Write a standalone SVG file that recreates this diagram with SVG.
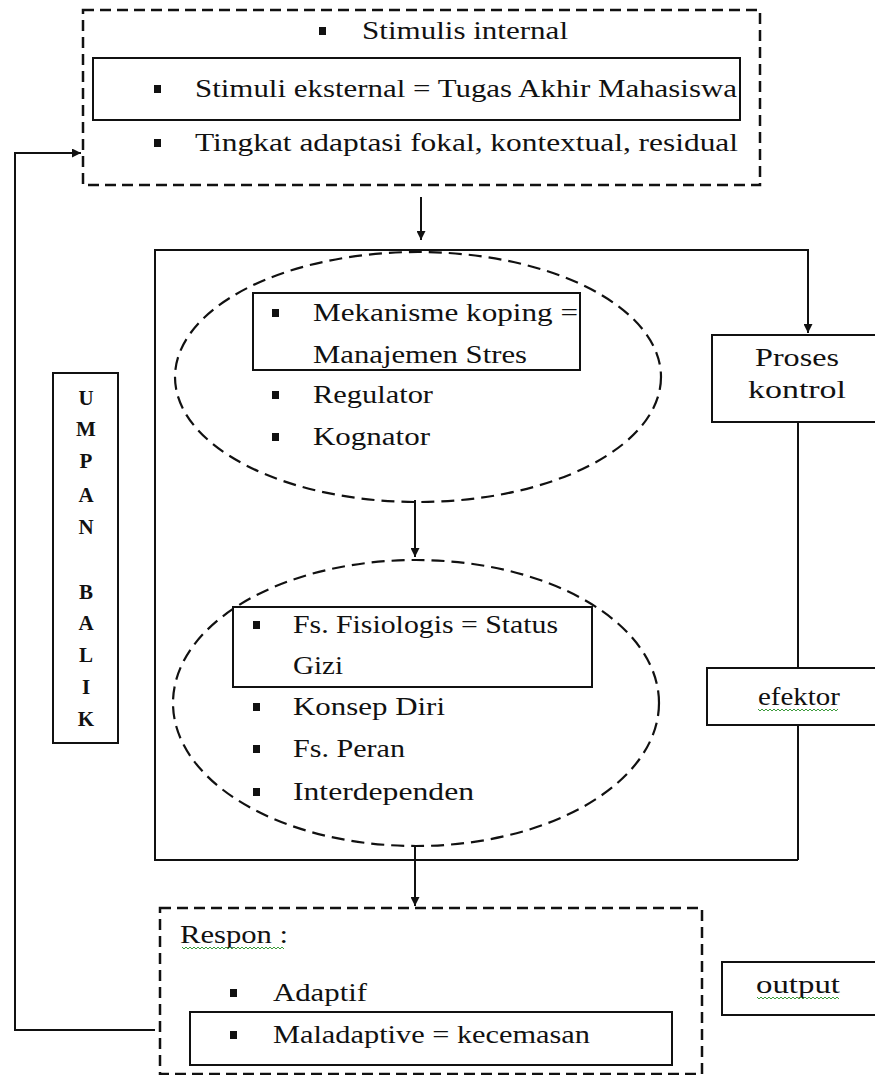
<svg xmlns="http://www.w3.org/2000/svg" width="875" height="1075" viewBox="0 0 875 1075">
<style>
.t{font-family:"Liberation Serif","Times New Roman",serif;font-size:25px;fill:#111}
.v{font-family:"Liberation Serif","Times New Roman",serif;font-size:21px;font-weight:bold;fill:#111;text-anchor:middle}
.dash{fill:none;stroke:#111;stroke-width:2.5;stroke-dasharray:11 6}
.ell{fill:none;stroke:#111;stroke-width:2.2;stroke-dasharray:13 7}
.box{fill:none;stroke:#111;stroke-width:2}
.ln{fill:none;stroke:#111;stroke-width:2}
.b{fill:#111}
.sq{fill:none;stroke:#3a9a3a;stroke-width:1}
</style>
<defs>
<marker id="ah" viewBox="0 0 10 10" refX="10" refY="5" markerWidth="9" markerHeight="9" orient="auto" markerUnits="userSpaceOnUse">
<path d="M0,0 L10,5 L0,10 z" fill="#111"/>
</marker>
</defs>
<rect width="875" height="1075" fill="#fff"/>

<g id="connectors">
<path class="ln" d="M155,1030 H15 V153 H81" marker-end="url(#ah)"/>
<path class="ln" d="M421,197 V240" marker-end="url(#ah)"/>
<path class="ln" d="M798,250 H808 V333" marker-end="url(#ah)"/>
<path class="ln" d="M798,422 V668"/>
<path class="ln" d="M798,725 V860"/>
<path class="ln" d="M415,500 V557" marker-end="url(#ah)"/>
<path class="ln" d="M415,847 V906" marker-end="url(#ah)"/>
</g>

<g id="system">
<path class="ln" d="M798,250 H155 V860 H798"/>
</g>

<g id="stimuli">
<rect class="dash" x="83" y="10" width="677" height="175"/>
<rect class="box" x="93" y="58" width="647" height="62"/>
<rect class="b" x="319" y="27" width="7" height="8"/>
<text class="t" x="362" y="39" textLength="206" lengthAdjust="spacingAndGlyphs">Stimulis internal</text>
<rect class="b" x="154" y="85" width="7" height="8"/>
<text class="t" x="195" y="97" textLength="542" lengthAdjust="spacingAndGlyphs">Stimuli eksternal = Tugas Akhir Mahasiswa</text>
<rect class="b" x="154" y="139" width="7" height="8"/>
<text class="t" x="195" y="151" textLength="543" lengthAdjust="spacingAndGlyphs">Tingkat adaptasi fokal, kontextual, residual</text>
</g>

<g id="umpan-balik">
<rect class="box" x="53" y="373" width="65" height="370"/>
<text class="v" x="86" y="405">U</text>
<text class="v" x="86" y="436">M</text>
<text class="v" x="86" y="468">P</text>
<text class="v" x="86" y="502">A</text>
<text class="v" x="86" y="534">N</text>
<text class="v" x="86" y="599">B</text>
<text class="v" x="86" y="630">A</text>
<text class="v" x="86" y="662">L</text>
<text class="v" x="86" y="694">I</text>
<text class="v" x="86" y="726">K</text>
</g>

<g id="koping">
<ellipse class="ell" cx="418" cy="377" rx="243" ry="125"/>
<rect class="box" x="253" y="293" width="327" height="77"/>
<rect class="b" x="272" y="309" width="7" height="8"/>
<text class="t" x="313" y="321" textLength="265" lengthAdjust="spacingAndGlyphs">Mekanisme koping =</text>
<text class="t" x="313" y="363" textLength="214" lengthAdjust="spacingAndGlyphs">Manajemen Stres</text>
<rect class="b" x="272" y="391" width="7" height="8"/>
<text class="t" x="313" y="403" textLength="120" lengthAdjust="spacingAndGlyphs">Regulator</text>
<rect class="b" x="272" y="433" width="7" height="8"/>
<text class="t" x="313" y="445" textLength="117" lengthAdjust="spacingAndGlyphs">Kognator</text>
</g>

<g id="proses-kontrol">
<rect class="box" x="712" y="335" width="170" height="87"/>
<text class="t" x="797" y="366" text-anchor="middle" textLength="84" lengthAdjust="spacingAndGlyphs">Proses</text>
<text class="t" x="797" y="398" text-anchor="middle" textLength="98" lengthAdjust="spacingAndGlyphs">kontrol</text>
</g>

<g id="efektor">
<rect class="box" x="707" y="668" width="175" height="57"/>
<text class="t" x="799" y="705" text-anchor="middle" textLength="82" lengthAdjust="spacingAndGlyphs">efektor</text>
<path class="sq" d="M758,709 l2,2 l2,-2 l2,2 l2,-2 l2,2 l2,-2 l2,2 l2,-2 l2,2 l2,-2 l2,2 l2,-2 l2,2 l2,-2 l2,2 l2,-2 l2,2 l2,-2 l2,2 l2,-2 l2,2 l2,-2 l2,2 l2,-2 l2,2 l2,-2 l2,2 l2,-2 l2,2 l2,-2 l2,2 l2,-2 l2,2 l2,-2 l2,2 l2,-2 l2,2 l2,-2 l2,2 l2,-2"/>
</g>

<g id="adaptasi">
<ellipse class="ell" cx="416" cy="703" rx="243" ry="143"/>
<rect class="box" x="233" y="607" width="359" height="80"/>
<rect class="b" x="253" y="621" width="7" height="8"/>
<text class="t" x="293" y="633" textLength="265" lengthAdjust="spacingAndGlyphs">Fs. Fisiologis = Status</text>
<text class="t" x="293" y="674" textLength="50" lengthAdjust="spacingAndGlyphs">Gizi</text>
<rect class="b" x="253" y="703" width="7" height="8"/>
<text class="t" x="293" y="715" textLength="152" lengthAdjust="spacingAndGlyphs">Konsep Diri</text>
<rect class="b" x="253" y="745" width="7" height="8"/>
<text class="t" x="293" y="757" textLength="112" lengthAdjust="spacingAndGlyphs">Fs. Peran</text>
<rect class="b" x="253" y="788" width="7" height="8"/>
<text class="t" x="293" y="800" textLength="181" lengthAdjust="spacingAndGlyphs">Interdependen</text>
</g>

<g id="respon">
<rect class="dash" x="160" y="908" width="542" height="166"/>
<text class="t" x="180" y="943" textLength="108" lengthAdjust="spacingAndGlyphs">Respon :</text>
<path class="sq" d="M182,947 l2,2 l2,-2 l2,2 l2,-2 l2,2 l2,-2 l2,2 l2,-2 l2,2 l2,-2 l2,2 l2,-2 l2,2 l2,-2 l2,2 l2,-2 l2,2 l2,-2 l2,2 l2,-2 l2,2 l2,-2 l2,2 l2,-2 l2,2 l2,-2 l2,2 l2,-2 l2,2 l2,-2 l2,2 l2,-2 l2,2 l2,-2 l2,2 l2,-2 l2,2 l2,-2 l2,2 l2,-2 l2,2 l2,-2 l2,2 l2,-2 l2,2 l2,-2 l2,2 l2,-2 l2,2 l2,-2 l2,2"/>
<rect class="b" x="230" y="989" width="7" height="8"/>
<text class="t" x="273" y="1001" textLength="94" lengthAdjust="spacingAndGlyphs">Adaptif</text>
<rect class="box" x="190" y="1012" width="482" height="53"/>
<rect class="b" x="230" y="1031" width="7" height="8"/>
<text class="t" x="273" y="1043" textLength="317" lengthAdjust="spacingAndGlyphs">Maladaptive = kecemasan</text>
</g>

<g id="output">
<rect class="box" x="722" y="962" width="160" height="53"/>
<text class="t" x="798" y="993" text-anchor="middle" textLength="84" lengthAdjust="spacingAndGlyphs">output</text>
<path class="sq" d="M757,997 l2,2 l2,-2 l2,2 l2,-2 l2,2 l2,-2 l2,2 l2,-2 l2,2 l2,-2 l2,2 l2,-2 l2,2 l2,-2 l2,2 l2,-2 l2,2 l2,-2 l2,2 l2,-2 l2,2 l2,-2 l2,2 l2,-2 l2,2 l2,-2 l2,2 l2,-2 l2,2 l2,-2 l2,2 l2,-2 l2,2 l2,-2 l2,2 l2,-2 l2,2 l2,-2 l2,2 l2,-2 l2,2"/>
</g>
</svg>
